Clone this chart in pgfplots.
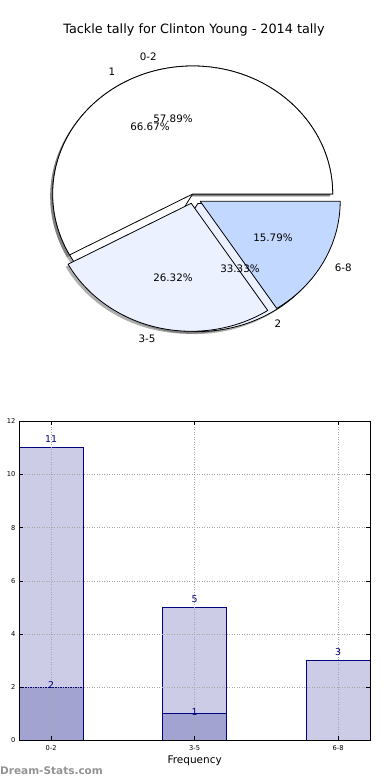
\documentclass[border=0pt]{standalone}
\usepackage{pgfplots}
\pgfplotsset{compat=1.18}
\usepackage{fontspec}
\setmainfont{DejaVu Sans}
\definecolor{navy}{HTML}{000080}
\definecolor{lightbar}{HTML}{CCCCE6}
\definecolor{darkbar}{HTML}{A3A3D1}
\definecolor{pieA}{HTML}{FFFFFF}
\definecolor{pieB}{HTML}{EBF1FF}
\definecolor{pieC}{HTML}{C3D8FF}
\definecolor{wmark}{HTML}{939393}

% pie wedge: centre x, centre y (axis units = px), start angle, end angle, fill
\newcommand{\pieslice}[5]{%
  \filldraw[fill=#5, draw=black, line width=0.8pt, line join=round]
    (axis cs:#1,#2) -- ++(#3:140pt and 128pt)
    arc[start angle=#3, end angle=#4, x radius=140pt, y radius=128pt] -- cycle;}
\newcommand{\pieshadow}[4]{%
  \fill[black!70, opacity=0.45]
    ([shift={(-2.5pt,-2.5pt)}]axis cs:#1,#2) -- ++(#3:140pt and 128pt)
    arc[start angle=#3, end angle=#4, x radius=140pt, y radius=128pt] -- cycle;}
\newcommand{\barlabelfont}{\fontsize{9.4}{11}\selectfont}

\begin{document}
\begin{tikzpicture}
\useasboundingbox (0,0) rectangle (390pt,780pt);

% ---------------- pie chart ----------------
% outer pie: 0-2 = 11, 3-5 = 5, 6-8 = 3 (of 19) -> 57.89, 26.32, 15.79 %
%   angles 0 -> 208.421 -> 303.158 -> 360
% inner pie: 1 = 2, 2 = 1 (of 3) -> 66.67, 33.33 %
%   angles 0 -> 240 -> 360
\begin{axis}[
  at={(0pt,390pt)}, anchor=south west, scale only axis,
  width=390pt, height=390pt,
  xmin=0, xmax=390, ymin=0, ymax=390, y dir=reverse,
  hide axis, clip=false,
]
% shadows
\pieshadow{192.7}{194}{0}{240}
\pieshadow{197.9}{203.5}{240}{360}
\pieshadow{192.7}{194}{0}{208.421}
\pieshadow{191.2}{203.3}{208.421}{303.158}
\pieshadow{200.2}{201.3}{303.158}{360}
% inner pie
\pieslice{192.7}{194}{0}{240}{pieA}
\pieslice{197.9}{203.5}{240}{360}{pieB}
% outer pie
\pieslice{192.7}{194}{0}{208.421}{pieA}
\pieslice{191.2}{203.3}{208.421}{303.158}{pieB}
\pieslice{200.2}{201.3}{303.158}{360}{pieC}
% labels
\begin{scope}[every node/.style={inner sep=0pt, anchor=center, font=\fontsize{10.3}{12}\selectfont}]
\node at (axis cs:148.3,57) {0-2};
\node at (axis cs:112,72) {1};
\node at (axis cs:147,339) {3-5};
\node at (axis cs:277.8,324) {2};
\node at (axis cs:343.3,267.5) {6-8};
\node at (axis cs:173,119.2) {57.89\%};
\node at (axis cs:150,127.2) {66.67\%};
\node at (axis cs:173,277.5) {26.32\%};
\node at (axis cs:240,269) {33.33\%};
\node at (axis cs:273,237.5) {15.79\%};
\end{scope}
\node[inner sep=0pt, anchor=center, font=\fontsize{12.8}{15}\selectfont] at (axis cs:194,30) {Tackle tally for Clinton Young - 2014 tally};
\end{axis}

% ---------------- bar chart ----------------
\begin{axis}[
  at={(19.3pt,39.7pt)}, anchor=south west, scale only axis,
  width=350.7pt, height=319pt,
  xmin=-0.2225, xmax=2.2225, ymin=0, ymax=12,
  xtick={0,1,2}, xticklabels={0-2,3-5,6-8},
  ytick={0,2,4,6,8,10,12},
  grid=major,
  major grid style={gray!70, line width=0.5pt, dash pattern=on 1pt off 1.5pt},
  axis on top,
  tick align=inside, major tick length=4pt,
  tick style={black, line width=0.5pt},
  axis line style={black, line width=0.8pt},
  ticklabel style={font=\fontsize{6.7}{8}\selectfont},
  yticklabel style={inner sep=0pt, xshift=-3.6pt},
  xticklabel style={inner sep=0pt, yshift=-4.9pt},
  /pgf/number format/assume math mode=true,
  xlabel={Frequency},
  xlabel style={at={(rel axis cs:0.5,0)}, anchor=base, yshift=-23.4pt, inner sep=0pt, font=\fontsize{10.5}{12}\selectfont},
  clip=false,
]
\addplot[ybar, bar shift=0pt, bar width=0.445, fill=lightbar, draw=navy, line width=0.8pt,
  nodes near coords={\barlabelfont\pgfmathprintnumber{\pgfplotspointmeta}}, nodes near coords align=vertical,
  every node near coord/.append style={text=navy, inner sep=0pt, anchor=base, yshift=5.2pt}]
  coordinates {(0,11) (1,5) (2,3)};
\addplot[ybar, bar shift=0pt, bar width=0.445, fill=darkbar, draw=navy, line width=0.8pt,
  nodes near coords={\barlabelfont\pgfmathprintnumber{\pgfplotspointmeta}}, nodes near coords align=vertical,
  every node near coord/.append style={text=navy, inner sep=0pt, anchor=base, yshift=-1.6pt}]
  coordinates {(0,2) (1,1)};
\end{axis}

\node[rotate=90, anchor=base, inner sep=0pt, font=\fontsize{10.5}{12}\selectfont] at (-4pt,199pt) {Stat Interval};
\node[anchor=base west, inner sep=0pt, font=\bfseries\fontsize{10.5}{12}\selectfont, text=wmark] at (0pt,5.5pt) {Dream-Stats.com};
\end{tikzpicture}
\end{document}
